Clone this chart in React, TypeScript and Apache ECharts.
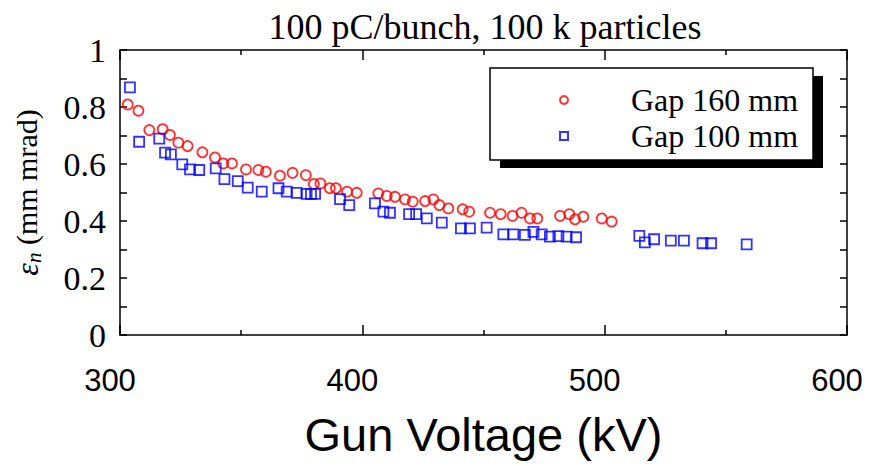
import React, { useEffect, useRef } from "react";
import * as echarts from "echarts";

const gap160Voltage = [303.2, 307.6, 312.1, 317.6, 320.6, 324.1, 327.9, 334.0, 339.2, 342.6, 346.2, 352.0, 357.1, 360.2, 366.0, 371.2, 376.7, 380.0, 382.7, 386.6, 389.1, 393.7, 397.7, 406.6, 410.1, 413.5, 417.6, 420.8, 425.9, 429.3, 431.8, 435.5, 441.4, 444.1, 452.7, 457.1, 462.0, 465.7, 469.2, 472.2, 481.6, 485.4, 487.8, 491.2, 498.8, 502.9];
const gap160Emittance = [0.809, 0.787, 0.719, 0.722, 0.702, 0.675, 0.663, 0.641, 0.623, 0.602, 0.602, 0.581, 0.579, 0.573, 0.559, 0.569, 0.561, 0.530, 0.532, 0.515, 0.515, 0.503, 0.499, 0.497, 0.488, 0.485, 0.476, 0.468, 0.470, 0.476, 0.456, 0.444, 0.441, 0.433, 0.429, 0.424, 0.418, 0.429, 0.409, 0.409, 0.418, 0.424, 0.406, 0.415, 0.409, 0.398];

const gap100Voltage = [304.1, 307.9, 316.2, 318.6, 321.0, 325.7, 328.9, 332.7, 339.5, 343.1, 348.6, 352.7, 358.5, 365.4, 368.8, 372.9, 377.0, 378.8, 380.5, 390.8, 394.6, 405.2, 408.7, 411.4, 419.3, 422.2, 426.6, 432.8, 440.7, 444.4, 451.3, 458.2, 462.3, 467.1, 470.6, 474.0, 477.4, 480.9, 484.3, 488.2, 514.3, 516.6, 520.4, 527.3, 532.7, 540.4, 543.9, 558.6];
const gap100Emittance = [0.869, 0.678, 0.689, 0.640, 0.634, 0.599, 0.581, 0.579, 0.585, 0.547, 0.540, 0.517, 0.503, 0.515, 0.503, 0.499, 0.495, 0.495, 0.495, 0.477, 0.456, 0.462, 0.433, 0.429, 0.424, 0.424, 0.409, 0.394, 0.374, 0.374, 0.377, 0.353, 0.353, 0.351, 0.362, 0.353, 0.345, 0.347, 0.345, 0.343, 0.348, 0.325, 0.336, 0.331, 0.331, 0.322, 0.322, 0.318];

const seriesNames = ["Gap 160 mm", "Gap 100 mm"];
const titleText = "100 pC/bunch, 100 k particles";
const xAxisName = "Gun Voltage (kV)";

const SERIF = "Liberation Serif, Times New Roman, serif";
const SANS = "Liberation Sans, Arial, sans-serif";

const zip = (xs: number[], ys: number[]) => xs.map((x, i) => [x, ys[i]]);

export default function App() {
  const ref = useRef<HTMLDivElement>(null);
  useEffect(() => {
    if (!ref.current) return;
    const chart = echarts.init(ref.current, null, { renderer: "svg" });
    const axisLine = { show: true, onZero: false, lineStyle: { color: "#000", width: 1.5 } };
    const option: any = {
      animation: false,
      backgroundColor: "#fff",
      title: {
        text: titleText,
        left: 480,
        top: 4,
        textAlign: "center",
        textStyle: { fontFamily: SERIF, fontSize: 36, fontWeight: "normal", color: "#000" },
      },
      grid: { left: 120, right: 29, top: 50, bottom: 131, containLabel: false },
      graphic: [
        { type: "rect", z: 1, shape: { x: 500, y: 76, width: 323, height: 92 }, style: { fill: "#000" } },
        { type: "rect", z: 2, shape: { x: 490, y: 68, width: 323, height: 92 }, style: { fill: "#fff", stroke: "#000", lineWidth: 1.5 } },
      ],
      legend: {
        z: 100,
        orient: "vertical",
        left: 554,
        top: 79,
        itemWidth: 8,
        itemHeight: 8,
        itemGap: 4,
        data: seriesNames,
        textStyle: { fontFamily: SERIF, fontSize: 32, color: "#000", padding: [0, 0, 0, 58], lineHeight: 30 },
      },
      xAxis: [
        {
          type: "value",
          position: "bottom",
          min: 300,
          max: 600,
          interval: 100,
          name: xAxisName,
          nameLocation: "middle",
          nameGap: 76,
          nameTextStyle: { fontFamily: SANS, fontSize: 47, color: "#000" },
          axisLine,
          axisTick: { show: true, inside: true, length: 10, lineStyle: { color: "#000", width: 1.5 } },
          minorTick: { show: true, splitNumber: 2, length: 5, lineStyle: { color: "#000", width: 1.5 } },
          axisLabel: { fontFamily: SANS, fontSize: 31, color: "#000", margin: 30, padding: [0, 20, 0, 0] },
          splitLine: { show: false },
        },
        {
          type: "value",
          position: "top",
          min: 300,
          max: 600,
          interval: 100,
          axisLine,
          axisTick: { show: true, inside: true, length: 10, lineStyle: { color: "#000", width: 1.5 } },
          minorTick: { show: true, splitNumber: 2, length: 5, lineStyle: { color: "#000", width: 1.5 } },
          axisLabel: { show: false },
          splitLine: { show: false },
        },
      ],
      yAxis: [
        {
          type: "value",
          position: "left",
          min: 0,
          max: 1,
          interval: 0.2,
          name: "{e|ε}{n|n} (mm mrad)",
          nameLocation: "middle",
          nameRotate: 90,
          nameGap: 76,
          nameTextStyle: {
            fontFamily: SERIF,
            fontSize: 30,
            color: "#000",
            rich: {
              e: { fontFamily: SERIF, fontSize: 32, fontStyle: "italic", color: "#000" },
              n: { fontFamily: SERIF, fontSize: 21, fontStyle: "italic", color: "#000", verticalAlign: "bottom", padding: [14, 0, 0, 0] },
            },
          },
          axisLine,
          axisTick: { show: true, inside: true, length: 7, lineStyle: { color: "#000", width: 1.5 } },
          minorTick: { show: true, splitNumber: 2, length: 7, lineStyle: { color: "#000", width: 1.5 } },
          axisLabel: { fontFamily: SERIF, fontSize: 34, color: "#000", margin: 14 },
          splitLine: { show: false },
        },
        {
          type: "value",
          position: "right",
          min: 0,
          max: 1,
          interval: 0.2,
          axisLine,
          axisTick: { show: true, inside: true, length: 7, lineStyle: { color: "#000", width: 1.5 } },
          minorTick: { show: true, splitNumber: 2, length: 7, lineStyle: { color: "#000", width: 1.5 } },
          axisLabel: { show: false },
          splitLine: { show: false },
        },
      ],
      series: [
        {
          name: seriesNames[0],
          type: "scatter",
          xAxisIndex: 0,
          yAxisIndex: 0,
          symbol: "circle",
          symbolSize: 10,
          itemStyle: { color: "rgba(255,255,255,0)", borderColor: "#ff0000", borderWidth: 1.8 },
          data: zip(gap160Voltage, gap160Emittance),
        },
        {
          name: seriesNames[1],
          type: "scatter",
          xAxisIndex: 0,
          yAxisIndex: 0,
          symbol: "rect",
          symbolSize: 10,
          itemStyle: { color: "rgba(255,255,255,0)", borderColor: "#0000ff", borderWidth: 1.8 },
          data: zip(gap100Voltage, gap100Emittance),
        },
      ],
    };
    chart.setOption(option);
    return () => chart.dispose();
  }, []);
  return <div ref={ref} style={{ width: 876, height: 466, position: "absolute", left: 0, top: 0 }} />;
}
